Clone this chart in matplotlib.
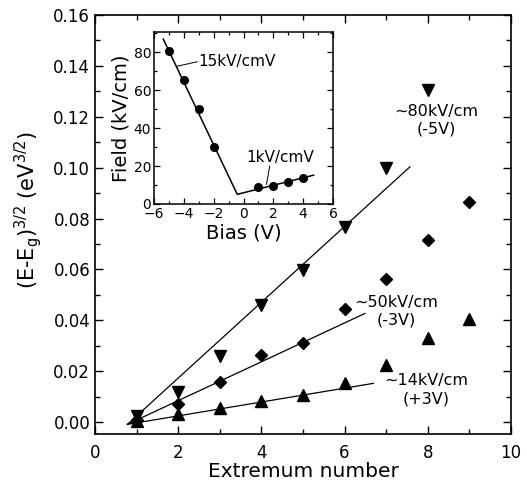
import numpy as np
import matplotlib.pyplot as plt
from matplotlib.ticker import MultipleLocator

plt.rcParams['font.family'] = ['DejaVu Sans']
plt.rcParams['mathtext.default'] = 'regular'

# extremum index vs (E-Eg)^(3/2) for three bias settings
ext = [1, 2, 3, 4, 5, 6, 7, 8, 9]
y_m5v = [0.0025, 0.0117, 0.026, 0.046, 0.0597, 0.0768, 0.0997, 0.1305]
y_m3v = [0.0008, 0.0071, 0.0158, 0.0263, 0.0309, 0.0443, 0.0561, 0.0715, 0.0866]
y_p3v = [0.0005, 0.003, 0.0054, 0.0084, 0.0106, 0.0155, 0.0224, 0.0329, 0.0405]

# linear fits (start/end x, start/end y)
fit_m5v = ([0.78, 7.57], [-0.0009, 0.1003])
fit_m3v = ([0.78, 6.49], [-0.0009, 0.0427])
fit_p3v = ([0.78, 6.69], [-0.0009, 0.0152])

# inset: field vs bias
bias = [-5, -4, -3, -2, 1, 2, 3, 4]
field = [80.5, 65.3, 50.2, 30.0, 8.8, 9.6, 11.6, 13.6]
fit_bias = [-5.38, -0.42, 4.7]
fit_field = [87.0, 5.1, 15.2]

fig = plt.figure(figsize=(5.27, 4.93), dpi=100)
ax = fig.add_axes([95 / 527, 1 - 434 / 493, 416 / 527, 419 / 493])

ax.plot(ext[:8], y_m5v, 'kv', ms=8)
ax.plot(ext, y_m3v, 'kD', ms=6.5)
ax.plot(ext, y_p3v, 'k^', ms=8)
for fx, fy in (fit_m5v, fit_m3v, fit_p3v):
    ax.plot(fx, fy, 'k-', lw=0.9)

ax.text(8.2, 0.1187, '~80kV/cm\n(-5V)', ha='center', va='center', fontsize=11.5, linespacing=1.25)
ax.text(7.25, 0.0436, '~50kV/cm\n(-3V)', ha='center', va='center', fontsize=11.5, linespacing=1.25)
ax.text(7.97, 0.0126, '~14kV/cm\n(+3V)', ha='center', va='center', fontsize=11.5, linespacing=1.25)

ax.set_xlim(0, 10)
ax.set_ylim(-0.0047, 0.16)
ax.xaxis.set_major_locator(MultipleLocator(2))
ax.xaxis.set_minor_locator(MultipleLocator(1))
ax.yaxis.set_major_locator(MultipleLocator(0.02))
ax.yaxis.set_minor_locator(MultipleLocator(0.01))
ax.yaxis.set_major_formatter(plt.FormatStrFormatter('%.2f'))
ax.tick_params(which='both', direction='in', top=True, right=True, labelsize=12, width=1)
ax.tick_params(axis='x', pad=7)
ax.tick_params(which='major', length=6)
ax.tick_params(which='minor', length=3.5)
for s in ax.spines.values():
    s.set_linewidth(1.2)
ax.set_xlabel('Extremum number', fontsize=14.5, labelpad=0)
ax.set_ylabel('(E-E$_g$)$^{3/2}$ (eV$^{3/2}$)', fontsize=15)
ax.yaxis.set_label_coords(-0.122, 0.535)

# inset
ins = fig.add_axes([154 / 527, 1 - 204 / 493, 179 / 527, 172 / 493])
ins.plot(fit_bias, fit_field, 'k-', lw=1.1)
ins.plot(bias, field, 'ko', ms=5.5)
ins.plot([-4.48, -3.1], [72.6, 75.0], 'k-', lw=0.7)
ins.text(-3.05, 75.3, '15kV/cmV', ha='left', va='center', fontsize=11)
ins.plot([1.54, 1.76], [10.4, 20.0], 'k-', lw=0.7)
ins.text(0.2, 24.4, '1kV/cmV', ha='left', va='center', fontsize=11)

ins.set_xlim(-6, 6)
ins.set_ylim(0, 90.7)
ins.xaxis.set_major_locator(MultipleLocator(2))
ins.xaxis.set_minor_locator(MultipleLocator(1))
ins.yaxis.set_major_locator(MultipleLocator(20))
ins.yaxis.set_minor_locator(MultipleLocator(10))
ins.tick_params(which='both', direction='in', top=True, right=True, labelsize=10, width=0.9, pad=2)
ins.tick_params(which='major', length=4)
ins.tick_params(which='minor', length=2.5)
for s in ins.spines.values():
    s.set_linewidth(1.1)
ins.set_xlabel('Bias (V)', fontsize=14, labelpad=2)
ins.set_ylabel('Field (kV/cm)', fontsize=14, labelpad=2)

fig.savefig('out.png', dpi=100)
